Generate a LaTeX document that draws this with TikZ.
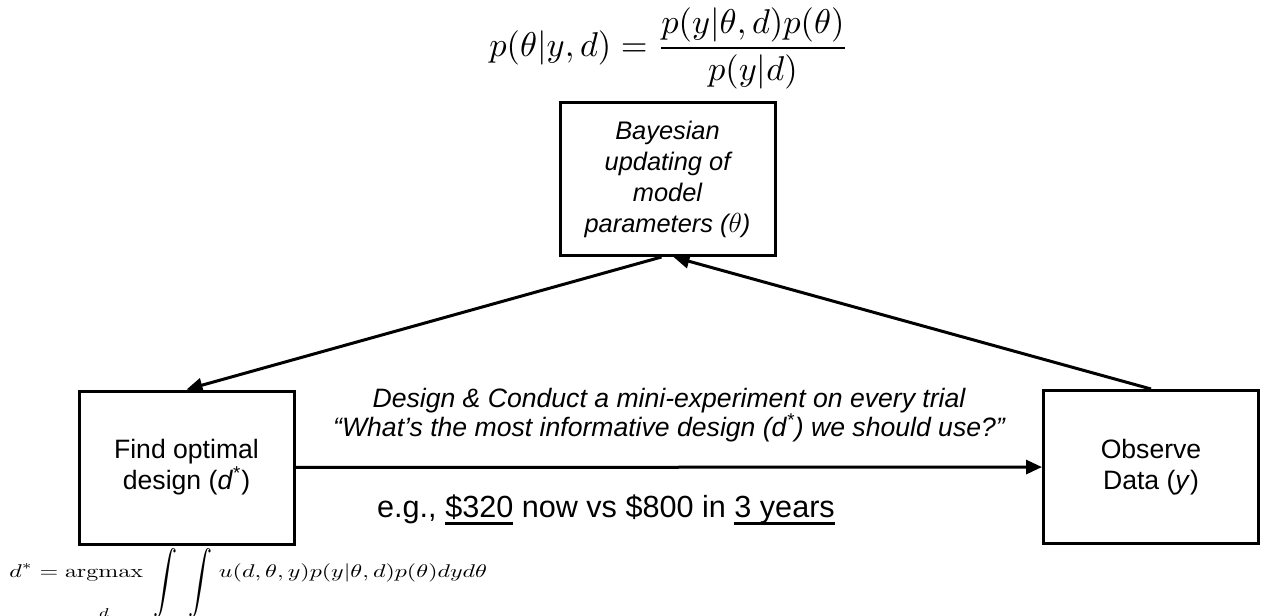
\documentclass[tikz,border=0pt]{standalone}
\usepackage{amsmath,amssymb}
\usepackage[no-math]{fontspec}
\setmainfont{Liberation Sans}
\usepackage{graphicx}
\usepackage{tikz}
\usetikzlibrary{arrows.meta,positioning}

\newcommand{\thickul}[1]{\setbox0\hbox{#1}\rlap{\rule[-3.75pt]{\wd0}{1.5pt}}\box0\relax}
\newcommand{\tallint}{\raisebox{-7.3pt}{\scalebox{1}[1.7]{$\displaystyle\int$}}}

\tikzset{
  stepbox/.style={draw, line width=1.5pt, minimum width=107.5pt, minimum height=76.5pt,
    align=center, inner sep=0pt, font=\fontsize{13.3}{15.5}\selectfont},
  flow/.style={line width=1.5pt, -{Triangle[length=8pt,width=7pt]}}
}

\begin{document}
\begin{tikzpicture}[x=0.5pt,y=-0.5pt]
  \useasboundingbox (0,0) rectangle (1262,615);
  % the three steps of the loop
  \node[stepbox, font=\fontsize{12.7}{15.5}\selectfont\itshape] (bayes) at (667.5,179)
    {Bayesian\\updating of\\model\\parameters (\scalebox{1.15}{$\theta$})};
  \node[stepbox] (design) at (186.5,467.5) {Find optimal\\design (\textit{d}\textsuperscript{*})};
  \node[stepbox] (observe) at (1151,467) {Observe\\Data (\textit{y})};
  % formulas
  \node[anchor=base, inner sep=0pt] (bayesrule) at (669,56.5)
    {\scalebox{1.72}{$\displaystyle p(\theta|y,d) = \frac{p(y|\theta,d)p(\theta)}{p(y|d)}$}};
  \node[anchor=base west, inner sep=0pt] (argmax) at (9,577.5)
    {\scalebox{1.2}[0.92]{$\displaystyle d^* = \operatorname*{argmax}_{\raisebox{-14pt}{$\scriptstyle d$}}
      \;\tallint\;\,\tallint\; u(d,\theta,y)p(y|\theta,d)p(\theta)dyd\theta$}};
  % connectors
  \draw[flow] (design) -- (observe);
  \draw[flow] (observe.north) -- ([xshift=3pt]bayes.south);
  \draw[flow] ([xshift=-3pt]bayes.south) -- (design.north);
  % labels on the horizontal arrow
  \node[align=center, font=\fontsize{13.3}{14.5}\selectfont\itshape] (trial) at (669,415.5)
    {Design \& Conduct a mini-experiment on every trial\\“What’s the most informative design (d\textsuperscript{*}) we should use?”};
  \node[anchor=base, font=\fontsize{15.3}{18}\selectfont] (example) at (606,517)
    {e.g., \thickul{\$320} now vs \$800 in \thickul{3 years}};
\end{tikzpicture}
\end{document}
